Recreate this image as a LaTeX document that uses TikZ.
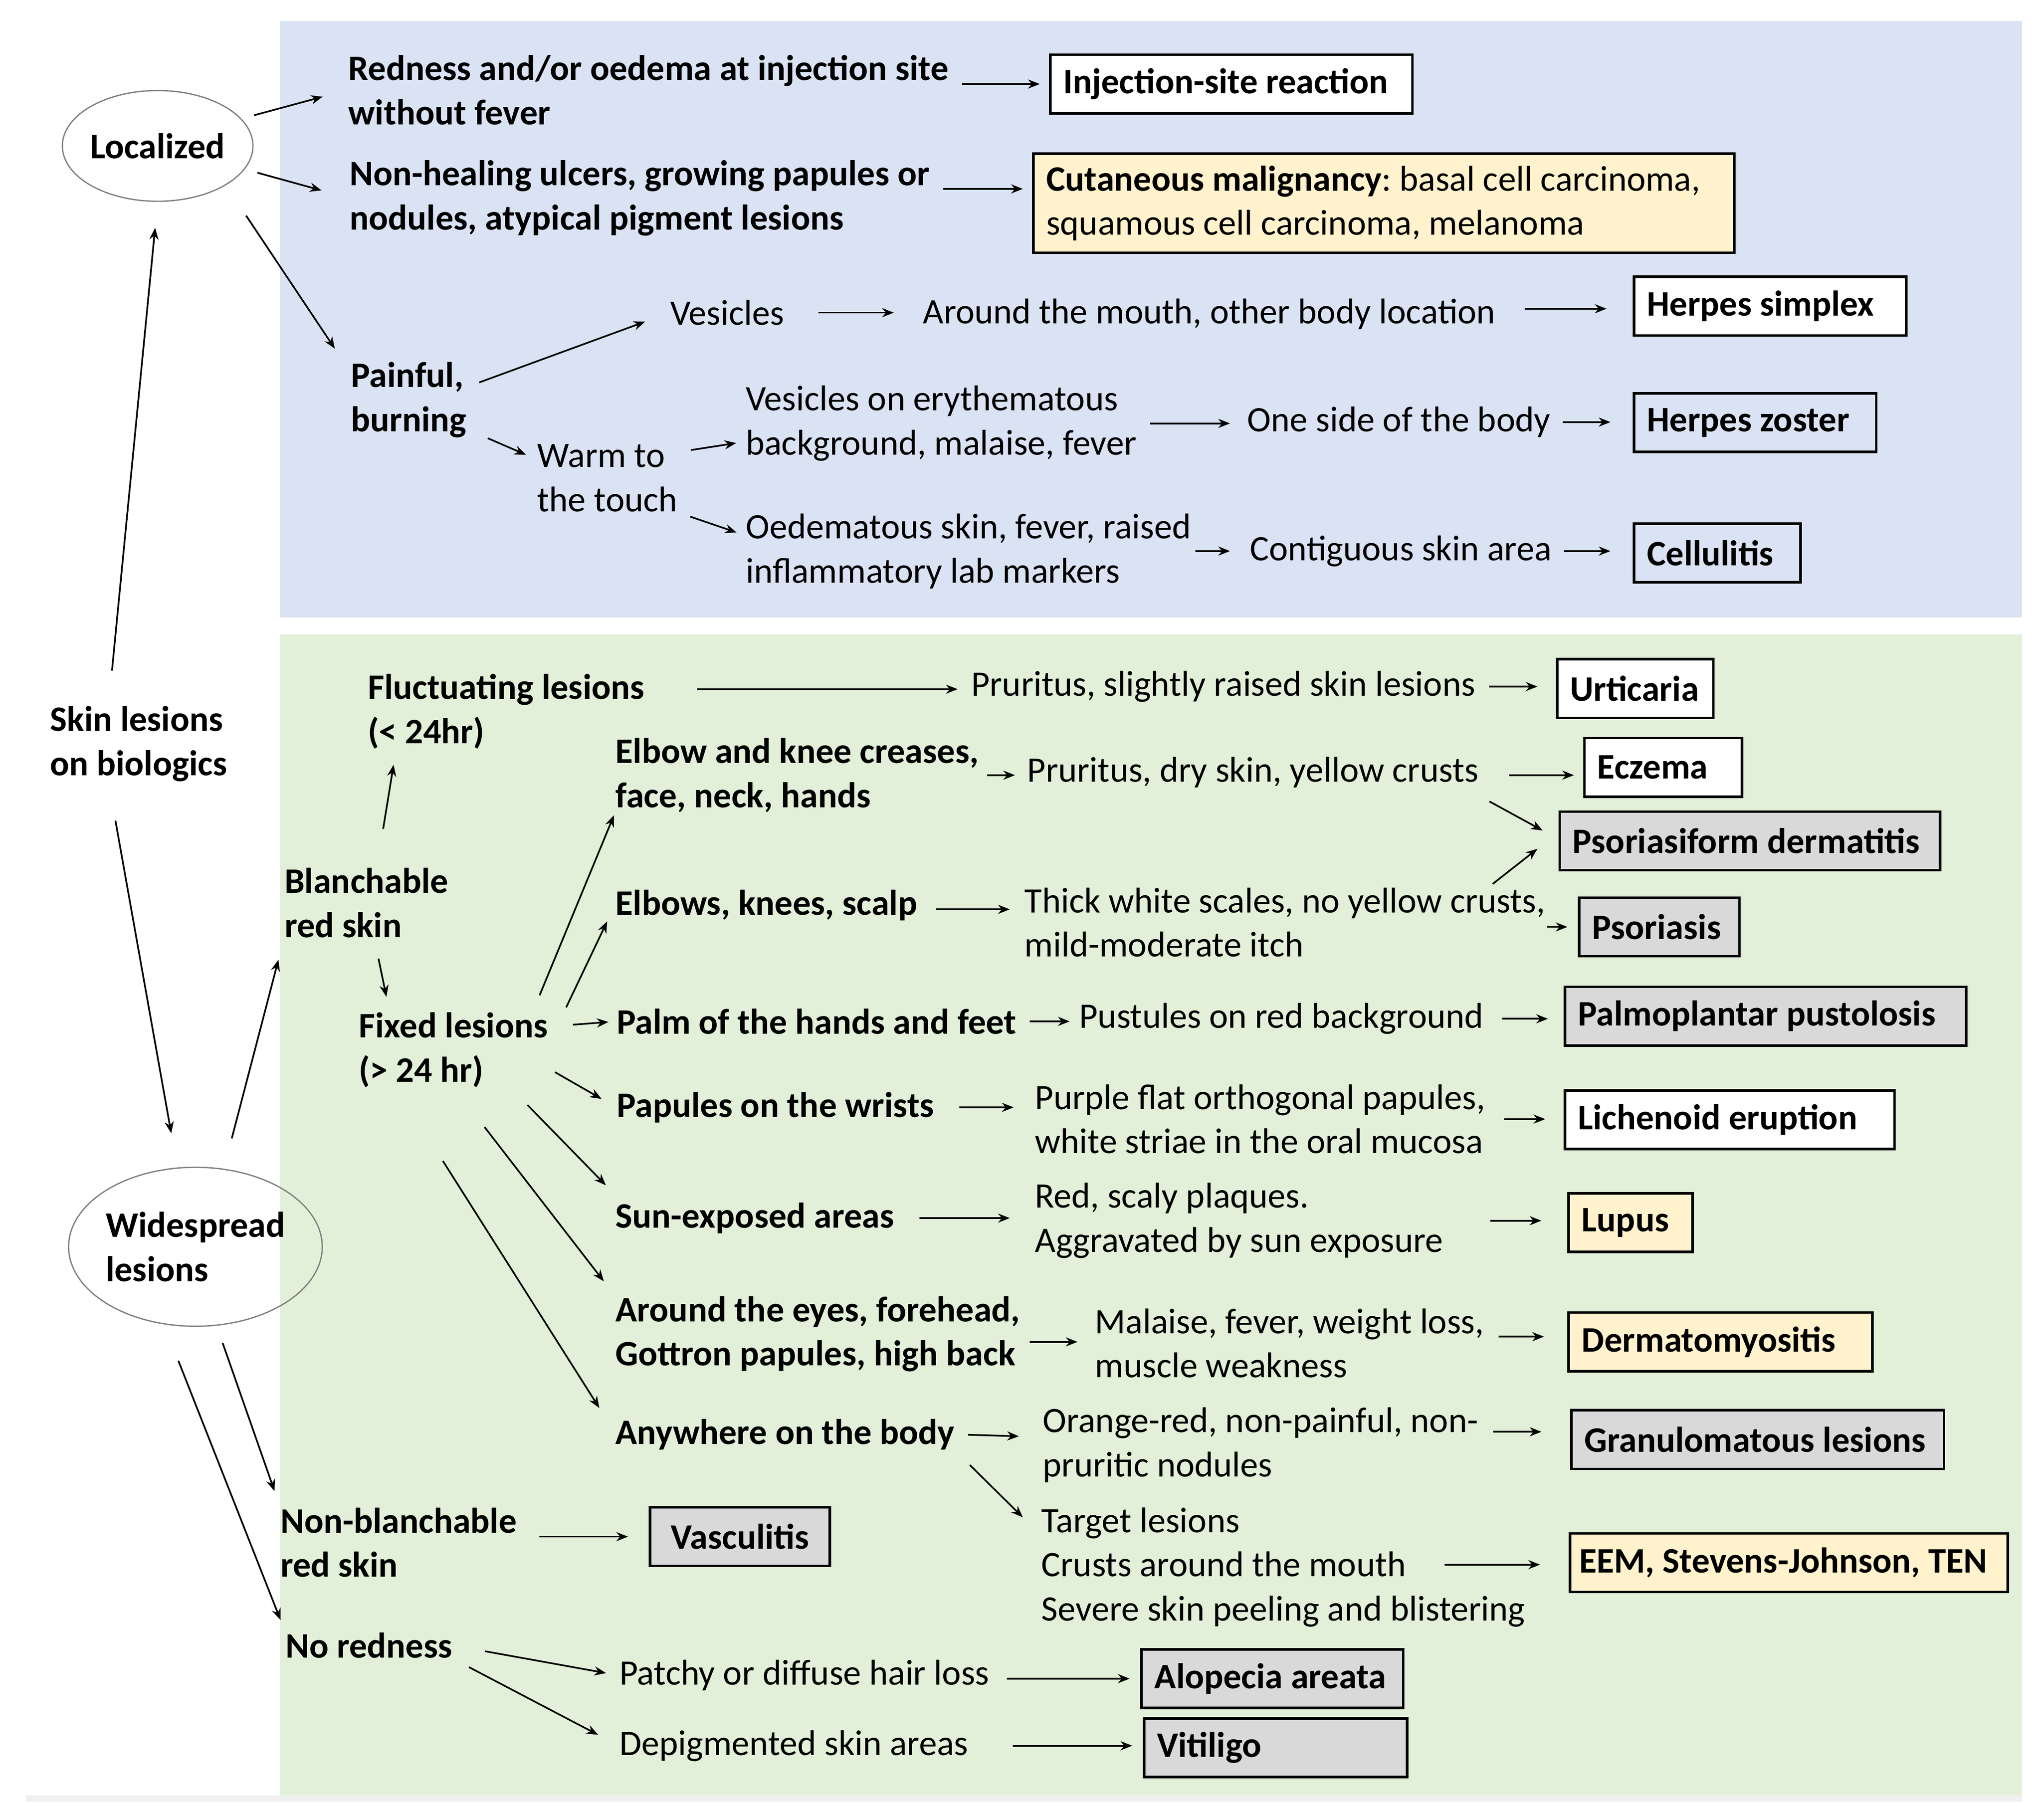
\documentclass[tikz,border=0pt]{standalone}
\usepackage{fontspec}
\setmainfont{Carlito}
\usetikzlibrary{shapes.geometric}
\usetikzlibrary{arrows.meta}
\definecolor{bluebg}{HTML}{DAE3F3}
\definecolor{greenbg}{HTML}{E2F0D9}
\definecolor{yellowbox}{HTML}{FFF2CC}
\definecolor{graybox}{HTML}{D9D9D9}

\begin{document}
\frenchspacing
\fontsize{13.75}{17}\selectfont
\begin{tikzpicture}[
x=0.5pt, y=-0.5pt,
txt/.style={anchor=west, inner sep=0pt, align=left},
btxt/.style={txt, font=\bfseries},
res/.style={draw, line width=1pt, anchor=west, font=\bfseries, align=flush left,
    inner xsep=5pt, inner ysep=0pt, minimum height=22.5pt, text width=#1},
arr/.style={-{Stealth[length=4.5pt,width=3.5pt]}, line width=0.65pt,
    shorten <=5pt, shorten >=3.5pt},
oval/.style={ellipse, draw=gray, line width=0.5pt, inner sep=0pt, font=\bfseries}
]
\useasboundingbox (0,0) rectangle (1568,1397);
\fill[bluebg] (215,16) rectangle (1552,474);
\fill[greenbg] (215,487) rectangle (1552,1378);
\fill[gray!12] (20,1378) rectangle (1552,1383);

\node[oval, minimum width=71pt, minimum height=42.5pt] (loc) at (121,112) {Localized};
\node[btxt] (skin) at (38,571) {Skin lesions\\on biologics};
\node[oval, minimum width=96pt, minimum height=61pt, align=left] (wide) at (150,957) {Widespread\\lesions};

\node[btxt] (redness) at (267,69) {Redness and/or oedema at injection site\\without fever};
\node[res=129pt, fill=white] (inj) at (805,64.5) {Injection-site reaction};
\node[btxt] (nonheal) at (268,152) {Non-healing ulcers, growing papules or\\nodules, atypical pigment lesions};
\node[res=259pt, fill=yellowbox, font=\mdseries, minimum height=38pt] (malig) at (792,156)
    {\textbf{Cutaneous malignancy}: basal cell carcinoma,\\squamous cell carcinoma, melanoma};
\node[btxt] (painful) at (269,307) {Painful,\\burning};
\node[txt] (vesic) at (514,240) {Vesicles};
\node[txt] (mouth) at (708,241) {Around the mouth, other body location};
\node[res=94.5pt, fill=white] (hsimplex) at (1253,235) {Herpes simplex};
\node[txt] (warm) at (412,367) {Warm to\\the touch};
\node[txt] (eryth) at (572,325) {Vesicles on erythematous\\background, malaise, fever};
\node[txt] (oneside) at (957,324) {One side of the body};
\node[res=83pt] (hzoster) at (1253,324.5) {Herpes zoster};
\node[txt] (oedem) at (572,423) {Oedematous skin, fever, raised\\inflammatory lab markers};
\node[txt] (contig) at (959,423) {Contiguous skin area};
\node[res=54pt] (cellu) at (1253,424.5) {Cellulitis};

\node[btxt] (fluct) at (282,546) {Fluctuating lesions\\(< 24hr)};
\node[txt] (prur1) at (745,527) {Pruritus, slightly raised skin lesions};
\node[res=50pt, fill=white] (urtic) at (1194,528.5) {Urticaria};
\node[btxt] (blanch) at (218,693) {Blanchable\\red skin};
\node[btxt] (fixed) at (275,806) {Fixed lesions\\(> 24 hr)};
\node[btxt] (elbowc) at (472,595) {Elbow and knee creases,\\face, neck, hands};
\node[txt] (prur2) at (788,593) {Pruritus, dry skin, yellow crusts};
\node[res=50.5pt, fill=white] (eczema) at (1215,589) {Eczema};
\node[btxt] (elbows) at (472,695) {Elbows, knees, scalp};
\node[txt] (thick) at (786,708) {Thick white scales, no yellow crusts,\\mild-moderate itch};
\node[res=136pt, fill=graybox] (psoform) at (1196,645.5) {Psoriasiform dermatitis};
\node[res=51.5pt, fill=graybox] (psor) at (1211,711.5) {Psoriasis};
\node[btxt] (palm) at (473,784) {Palm of the hands and feet};
\node[txt] (pust) at (828,782) {Pustules on red background};
\node[res=144pt, fill=graybox] (palmo) at (1200,780) {Palmoplantar pustolosis};
\node[btxt] (wrists) at (473,850) {Papules on the wrists};
\node[txt] (purple) at (794,859) {Purple flat orthogonal papules,\\white striae in the oral mucosa};
\node[res=116.5pt, fill=white] (lichen) at (1200,859.5) {Lichenoid eruption};
\node[btxt] (sun) at (472,935) {Sun-exposed areas};
\node[txt] (redscaly) at (794,937) {Red, scaly plaques.\\Aggravated by sun exposure};
\node[res=37.5pt, fill=yellowbox] (lupus) at (1203,938.5) {Lupus};
\node[btxt] (eyes) at (472,1024) {Around the eyes, forehead,\\Gottron papules, high back};
\node[txt] (malaise) at (840,1031) {Malaise, fever, weight loss,\\muscle weakness};
\node[res=106.5pt, fill=yellowbox] (dermato) at (1203,1030) {Dermatomyositis};
\node[btxt] (anyw) at (472,1101) {Anywhere on the body};
\node[txt] (orange) at (800,1109) {Orange-red, non-painful, non-\\pruritic nodules};
\node[res=133pt, fill=graybox] (granu) at (1205,1105) {Granulomatous lesions};
\node[txt] (target) at (799,1203) {Target lesions\\Crusts around the mouth\\Severe skin peeling and blistering};
\node[res=161pt, inner xsep=3.5pt, fill=yellowbox] (eem) at (1204,1199.5) {EEM, Stevens-Johnson, TEN};
\node[btxt] (nonbl) at (215,1184) {Non-blanchable\\red skin};
\node[res=59pt, fill=graybox, align=center] (vascu) at (498,1179.5) {Vasculitis};
\node[btxt] (nored) at (219,1263) {No redness};
\node[txt] (hair) at (475,1286) {Patchy or diffuse hair loss};
\node[res=90.5pt, fill=graybox] (alope) at (875,1288.5) {Alopecia areata};
\node[txt] (depig) at (475,1340) {Depigmented skin areas};
\node[res=91pt, fill=graybox] (vitil) at (877,1341.5) {Vitiligo};

\draw[arr, shorten <=13.5pt, shorten >=10pt] ([xshift=-11.5pt]skin.north) -- (loc.south);
\draw[arr, shorten <=15pt, shorten >=13pt] ([xshift=-11.5pt]skin.south) -- ([xshift=-7pt]wide.north);
\draw[arr, shorten >=10pt] (loc.18) -- (redness.west);
\draw[arr, shorten >=11pt] (loc.-15) -- (nonheal.west);
\draw[arr, shorten <=14pt, shorten >=0pt] (loc.-30) -- ([xshift=-6pt,yshift=5pt]painful.north west);
\draw[arr, shorten <=12pt, shorten >=8.5pt] (wide.70) -- (blanch.south west);
\draw[arr, shorten <=7pt, shorten >=6.5pt] (wide.-75) -- (nonbl.north west);
\draw[arr, shorten <=15pt, shorten >=5pt] (wide.-112) -- (nored.north west);

\draw[arr] (inj.west -| redness.east) -- (inj.west);
\draw[arr] ([yshift=3.5pt]nonheal.east) -- ([yshift=3.5pt]nonheal.east -| malig.west);
\draw[arr, shorten >=10pt] ([yshift=5pt]painful.east) -- (vesic.west);
\draw[arr, shorten <=13pt, shorten >=11pt] (vesic.east) -- (vesic.east -| mouth.west);
\draw[arr, shorten <=11pt, shorten >=10pt] ([yshift=2pt]mouth.east) -- ([yshift=2pt]mouth.east -| hsimplex.west);
\draw[arr, shorten <=0pt, shorten >=4.5pt] ([xshift=8pt]painful.south east) -- ([yshift=-6pt]warm.north west);
\draw[arr] ([yshift=10pt]warm.east) -- ([yshift=-7pt]eryth.west);
\draw[arr] (warm.south east) -- ([yshift=6pt]oedem.west);
\draw[arr, shorten >=6.5pt] (eryth.east) -- (eryth.east -| oneside.west);
\draw[arr, shorten <=4.5pt, shorten >=8.5pt] (oneside.east) -- (oneside.east -| hzoster.west);
\draw[arr, shorten <=1.5pt, shorten >=7.5pt] (oedem.east) -- (oedem.east -| contig.west);
\draw[arr, shorten <=4.5pt, shorten >=8.5pt] (contig.east) -- (contig.east -| cellu.west);

\draw[arr, shorten <=20pt, shorten >=5pt] ([yshift=8.5pt]fluct.east) -- ([yshift=8.5pt]fluct.east -| prur1.west);
\draw[arr, shorten >=7pt] (prur1.east) -- (prur1.east -| urtic.west);
\draw[arr, shorten <=15pt, shorten >=6pt] ([xshift=4pt]blanch.north) -- ([xshift=11pt]fluct.south west);
\draw[arr, shorten <=8pt, shorten >=6pt] ([xshift=3pt]blanch.south) -- ([xshift=12pt]fixed.north west);
\draw[arr, shorten <=7pt, shorten >=1pt] ([xshift=-6pt]fixed.north east) -- (elbowc.south west);
\draw[arr, shorten <=2pt, shorten >=0pt] ([xshift=6pt]fixed.north east) -- ([xshift=-3pt]elbows.south west);
\draw[arr, shorten <=9.5pt, shorten >=3pt] ([yshift=9pt]fixed.east) -- (palm.west);
\draw[arr, shorten <=3pt, shorten >=6.5pt] ([yshift=-7pt]fixed.east) -- (wrists.west);
\draw[arr, shorten <=0pt, shorten >=5pt] ([xshift=-8pt,yshift=-6.5pt]fixed.south east) -- ([yshift=9pt]sun.west);
\draw[arr, shorten <=0pt, shorten >=7pt] ([xshift=12pt,yshift=-15pt]fixed.south) -- (eyes.north west);
\draw[arr, shorten <=0pt, shorten >=0pt] ([xshift=-4pt,yshift=-28pt]fixed.south) -- ([xshift=-6pt,yshift=4pt]anyw.north west);
\draw[arr, shorten <=3pt, shorten >=4.5pt] (elbowc.east) -- (elbowc.east -| prur2.west);
\draw[arr, shorten <=11.5pt, shorten >=3.5pt] ([yshift=-1pt]prur2.east) -- ([yshift=-1pt]prur2.east -| eczema.west);
\draw[arr, shorten <=0pt, shorten >=0pt] ([xshift=4pt,yshift=-5pt]prur2.south east) -- ([xshift=-6pt,yshift=4pt]psoform.west);
\draw[arr, shorten <=7pt, shorten >=5.5pt] ([yshift=-1.5pt]elbows.east) -- ([yshift=-1.5pt]elbows.east -| thick.west);
\draw[arr, shorten <=2pt, shorten >=0pt] ([xshift=-22pt]thick.north east) -- ([xshift=-8pt,yshift=-3pt]psoform.west);
\draw[arr, shorten <=0.5pt, shorten >=4pt] (psor.west -| thick.east) -- (psor.west);
\draw[arr] (palm.east) -- (palm.east -| pust.west);
\draw[arr, shorten <=7pt, shorten >=6pt] (pust.east) -- (pust.east -| palmo.west);
\draw[arr, shorten <=9.5pt, shorten >=8pt] (wrists.east) -- (wrists.east -| purple.west);
\draw[arr, shorten <=7pt, shorten >=7pt] (purple.east) -- (purple.east -| lichen.west);
\draw[arr, shorten <=9.5pt, shorten >=9.5pt] (sun.east) -- (sun.east -| redscaly.west);
\draw[arr, shorten <=18pt, shorten >=10pt] (redscaly.east) -- (redscaly.east -| lupus.west);
\draw[arr, shorten <=3.5pt, shorten >=6.5pt] ([yshift=-3pt]eyes.east) -- ([yshift=-3pt]eyes.east -| malaise.west);
\draw[arr, shorten <=5.5pt, shorten >=9pt] ([yshift=2.5pt]malaise.east) -- ([yshift=2.5pt]malaise.east -| dermato.west);
\draw[arr, shorten >=9pt] (anyw.east) -- ([yshift=3pt]orange.west);
\draw[arr, shorten <=5.5pt, shorten >=11pt] ([yshift=5pt]orange.east) -- ([yshift=5pt]orange.east -| granu.west);
\draw[arr, shorten <=8pt, shorten >=0pt] (anyw.south east) -- ([xshift=-7pt,yshift=-4pt]target.north west);
\draw[arr, shorten <=-31pt, shorten >=11pt] ([yshift=1pt]target.east) -- ([yshift=1pt]target.east -| eem.west);
\draw[arr, shorten <=8.5pt, shorten >=8pt] (vascu.west -| nonbl.east) -- (vascu.west);
\draw[arr, shorten <=12.5pt, shorten >=5pt] (nored.east) -- (hair.west);
\draw[arr, shorten <=7pt, shorten >=9pt] (nored.south east) -- (depig.west);
\draw[arr, shorten <=6.5pt, shorten >=4pt] (alope.west -| hair.east) -- (alope.west);
\draw[arr, shorten <=17pt, shorten >=4pt] (depig.east) -- (depig.east -| vitil.west);
\end{tikzpicture}
\end{document}
